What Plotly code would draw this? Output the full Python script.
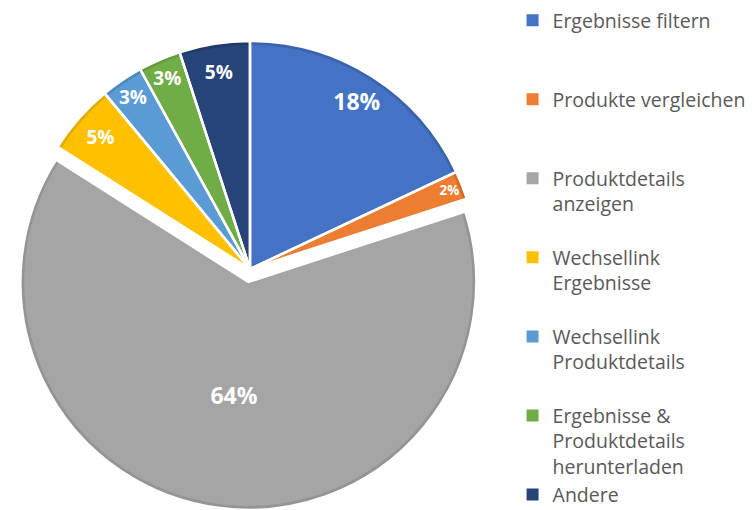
import plotly.graph_objects as go

labels = ["Ergebnisse filtern", "Produkte vergleichen", "Produktdetails<br>anzeigen",
          "Wechsellink<br>Ergebnisse", "Wechsellink<br>Produktdetails",
          "Ergebnisse &<br>Produktdetails<br>herunterladen", "Andere"]
values = [18, 2, 64, 5, 3, 3, 5]
colors = ["#4472C4", "#ED7D31", "#A5A5A5", "#FFC000", "#5B9BD5", "#70AD47", "#264478"]
edge_colors = ["#3A63AD", "#D06A26", "#949494", "#E3AB00", "#4E88BE", "#629A3D", "#1F3A69"]
pulls = [0, 0, 0.057, 0, 0, 0, 0]
label_sizes = [23, 19, 23, 19, 19, 19, 19]
# which labels sit near the rim (outer ring) vs. in the slice body
outer_labelled = [True, True, False, True, True, True, True]


# pad legend entries (all but the last) to equal line count so entries are evenly spaced
def pad(lbl, n=3):
    k = lbl.count("<br>") + 1
    return lbl + "<br>&nbsp;" * max(0, n - k)


legend_labels = [pad(l) for l in labels[:-1]] + [labels[-1]]

outer = dict(x=[0.0119, 0.6495], y=[0.0, 0.945])
inset_x = 4.0 / 756
inset_y = 4.0 / 510
inner = dict(x=[outer["x"][0] + inset_x, outer["x"][1] - inset_x],
             y=[outer["y"][0] + inset_y, outer["y"][1] - inset_y])

pct = "%{percent:.0%}"
tmpl_body = ["" if o else pct for o in outer_labelled]
tmpl_ring = [pct if o else "" for o in outer_labelled]

common = dict(labels=legend_labels, values=values, sort=False, direction="clockwise",
              rotation=0, pull=pulls)
label_font = dict(family="Open Sans", color="white", size=label_sizes, weight="bold")
clear = ["rgba(0,0,0,0)"] * len(values)

fig = go.Figure()
# darker rim
fig.add_trace(go.Pie(**common, domain=outer,
                     marker=dict(colors=edge_colors, line=dict(width=0)),
                     textinfo="none", hoverinfo="skip", showlegend=False))
# main fill
fig.add_trace(go.Pie(**common, domain=inner,
                     marker=dict(colors=colors, line=dict(width=0)),
                     textinfo="none", hoverinfo="label+percent", showlegend=True))
# white separators + body label
fig.add_trace(go.Pie(**common, domain=outer,
                     marker=dict(colors=clear, line=dict(color="white", width=2.5)),
                     texttemplate=tmpl_body, textposition="inside",
                     insidetextorientation="horizontal", textfont=label_font,
                     hoverinfo="skip", showlegend=False))
# labels placed near the rim
fig.add_trace(go.Pie(**common, domain=outer, hole=0.75,
                     marker=dict(colors=clear, line=dict(width=0)),
                     texttemplate=tmpl_ring, textposition="inside",
                     insidetextorientation="horizontal", textfont=label_font,
                     hoverinfo="skip", showlegend=False))

fig.update_layout(
    width=756, height=510,
    margin=dict(l=0, r=0, t=0, b=0, autoexpand=False),
    paper_bgcolor="white", plot_bgcolor="white",
    legend=dict(
        x=0.678, xanchor="left", y=0.998, yanchor="top",
        font=dict(family="Open Sans", size=19.5, color="#595959"),
        valign="top", traceorder="normal", bgcolor="rgba(0,0,0,0)",
        maxheight=1000,
    ),
)

fig.write_html("out.html", config={"displayModeBar": False},
               post_script="document.body.style.margin='0';")
